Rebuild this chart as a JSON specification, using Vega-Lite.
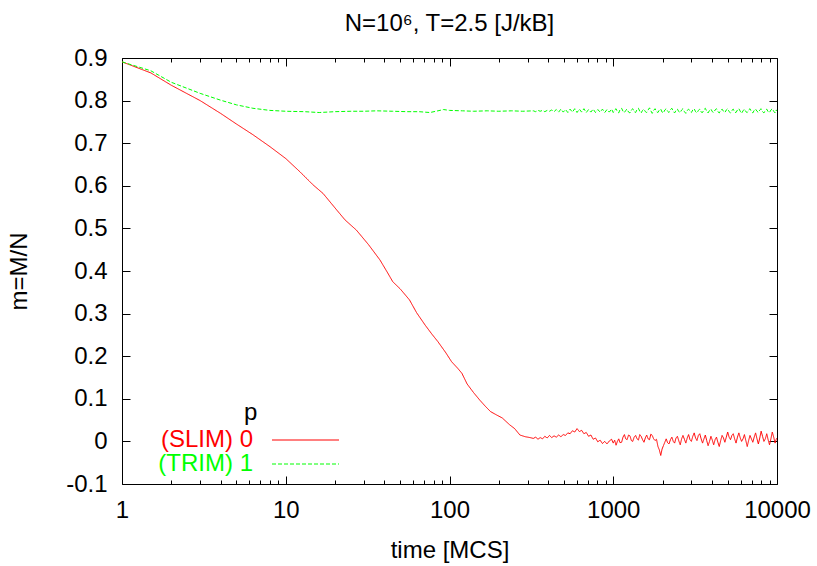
{
  "$schema": "https://vega.github.io/schema/vega-lite/v6.json",
  "width": 655,
  "height": 426,
  "autosize": "none",
  "padding": {"left": 122, "top": 58, "right": 40, "bottom": 82},
  "background": "white",
  "title": {"text": "N=10⁶, T=2.5 [J/kB]", "anchor": "middle", "frame": "group", "offset": 10, "font": "Liberation Sans", "fontSize": 24, "fontWeight": "normal", "color": "black"},
  "datasets": {
    "d": [
      {"t":1,"m":0.891,"p":"(SLIM) 0"},{"t":1.5,"m":0.865,"p":"(SLIM) 0"},{"t":2,"m":0.836,"p":"(SLIM) 0"},{"t":3,"m":0.800,"p":"(SLIM) 0"},{"t":4,"m":0.770,"p":"(SLIM) 0"},{"t":5,"m":0.745,"p":"(SLIM) 0"},{"t":6.3,"m":0.720,"p":"(SLIM) 0"},{"t":8,"m":0.692,"p":"(SLIM) 0"},{"t":10,"m":0.664,"p":"(SLIM) 0"},{"t":12.2,"m":0.633,"p":"(SLIM) 0"},{"t":14.7,"m":0.602,"p":"(SLIM) 0"},{"t":16.9,"m":0.582,"p":"(SLIM) 0"},{"t":20.5,"m":0.543,"p":"(SLIM) 0"},{"t":23,"m":0.520,"p":"(SLIM) 0"},{"t":27,"m":0.496,"p":"(SLIM) 0"},{"t":32,"m":0.462,"p":"(SLIM) 0"},{"t":37.6,"m":0.426,"p":"(SLIM) 0"},{"t":42,"m":0.395,"p":"(SLIM) 0"},{"t":45,"m":0.375,"p":"(SLIM) 0"},{"t":50,"m":0.358,"p":"(SLIM) 0"},{"t":57,"m":0.332,"p":"(SLIM) 0"},{"t":63,"m":0.302,"p":"(SLIM) 0"},{"t":71,"m":0.273,"p":"(SLIM) 0"},{"t":78,"m":0.252,"p":"(SLIM) 0"},{"t":85,"m":0.234,"p":"(SLIM) 0"},{"t":95,"m":0.208,"p":"(SLIM) 0"},{"t":103,"m":0.187,"p":"(SLIM) 0"},{"t":112,"m":0.172,"p":"(SLIM) 0"},{"t":119,"m":0.160,"p":"(SLIM) 0"},{"t":128,"m":0.135,"p":"(SLIM) 0"},{"t":140,"m":0.115,"p":"(SLIM) 0"},{"t":153,"m":0.097,"p":"(SLIM) 0"},{"t":165,"m":0.083,"p":"(SLIM) 0"},{"t":178,"m":0.070,"p":"(SLIM) 0"},{"t":194,"m":0.062,"p":"(SLIM) 0"},{"t":210,"m":0.055,"p":"(SLIM) 0"},{"t":233,"m":0.039,"p":"(SLIM) 0"},{"t":250,"m":0.030,"p":"(SLIM) 0"},{"t":269,"m":0.015,"p":"(SLIM) 0"},{"t":290,"m":0.011,"p":"(SLIM) 0"},{"t":310,"m":0.009,"p":"(SLIM) 0"},
      {"t":325,"m":0.007,"p":"(SLIM) 0"},{"t":336,"m":0.010,"p":"(SLIM) 0"},{"t":347,"m":0.005,"p":"(SLIM) 0"},{"t":358,"m":0.009,"p":"(SLIM) 0"},{"t":370,"m":0.006,"p":"(SLIM) 0"},{"t":382,"m":0.012,"p":"(SLIM) 0"},{"t":395,"m":0.008,"p":"(SLIM) 0"},{"t":408,"m":0.014,"p":"(SLIM) 0"},{"t":421,"m":0.009,"p":"(SLIM) 0"},{"t":435,"m":0.013,"p":"(SLIM) 0"},{"t":449,"m":0.010,"p":"(SLIM) 0"},{"t":464,"m":0.015,"p":"(SLIM) 0"},{"t":479,"m":0.011,"p":"(SLIM) 0"},{"t":495,"m":0.016,"p":"(SLIM) 0"},{"t":511,"m":0.014,"p":"(SLIM) 0"},{"t":528,"m":0.020,"p":"(SLIM) 0"},{"t":545,"m":0.018,"p":"(SLIM) 0"},{"t":563,"m":0.025,"p":"(SLIM) 0"},{"t":582,"m":0.022,"p":"(SLIM) 0"},{"t":601,"m":0.030,"p":"(SLIM) 0"},{"t":621,"m":0.023,"p":"(SLIM) 0"},{"t":641,"m":0.026,"p":"(SLIM) 0"},{"t":662,"m":0.018,"p":"(SLIM) 0"},{"t":684,"m":0.021,"p":"(SLIM) 0"},{"t":707,"m":0.012,"p":"(SLIM) 0"},{"t":730,"m":0.015,"p":"(SLIM) 0"},{"t":754,"m":0.005,"p":"(SLIM) 0"},{"t":779,"m":0.008,"p":"(SLIM) 0"},{"t":805,"m":-0.001,"p":"(SLIM) 0"},{"t":831,"m":0.003,"p":"(SLIM) 0"},{"t":859,"m":-0.005,"p":"(SLIM) 0"},{"t":887,"m":0.000,"p":"(SLIM) 0"},{"t":916,"m":-0.006,"p":"(SLIM) 0"},{"t":946,"m":0.001,"p":"(SLIM) 0"},{"t":977,"m":0.005,"p":"(SLIM) 0"},
      {"t":1000,"m":-0.004,"p":"(SLIM) 0"},{"t":1020,"m":0.003,"p":"(SLIM) 0"},{"t":1040,"m":-0.009,"p":"(SLIM) 0"},{"t":1060,"m":0.000,"p":"(SLIM) 0"},{"t":1080,"m":0.006,"p":"(SLIM) 0"},{"t":1100,"m":-0.003,"p":"(SLIM) 0"},{"t":1125,"m":-0.002,"p":"(SLIM) 0"},{"t":1147,"m":0.010,"p":"(SLIM) 0"},{"t":1170,"m":0.016,"p":"(SLIM) 0"},{"t":1192,"m":0.006,"p":"(SLIM) 0"},{"t":1215,"m":0.004,"p":"(SLIM) 0"},{"t":1240,"m":0.015,"p":"(SLIM) 0"},{"t":1265,"m":0.013,"p":"(SLIM) 0"},{"t":1290,"m":0.002,"p":"(SLIM) 0"},{"t":1315,"m":0.000,"p":"(SLIM) 0"},{"t":1342,"m":0.010,"p":"(SLIM) 0"},{"t":1370,"m":0.014,"p":"(SLIM) 0"},{"t":1397,"m":0.006,"p":"(SLIM) 0"},{"t":1425,"m":0.003,"p":"(SLIM) 0"},{"t":1452,"m":0.016,"p":"(SLIM) 0"},{"t":1480,"m":0.012,"p":"(SLIM) 0"},{"t":1510,"m":0.004,"p":"(SLIM) 0"},{"t":1540,"m":-0.002,"p":"(SLIM) 0"},{"t":1570,"m":0.008,"p":"(SLIM) 0"},{"t":1600,"m":0.015,"p":"(SLIM) 0"},{"t":1632,"m":0.006,"p":"(SLIM) 0"},{"t":1665,"m":0.004,"p":"(SLIM) 0"},{"t":1697,"m":0.017,"p":"(SLIM) 0"},{"t":1730,"m":0.014,"p":"(SLIM) 0"},{"t":1765,"m":0.006,"p":"(SLIM) 0"},{"t":1800,"m":0.002,"p":"(SLIM) 0"},{"t":1837,"m":0.005,"p":"(SLIM) 0"},{"t":1875,"m":-0.012,"p":"(SLIM) 0"},{"t":1912,"m":-0.020,"p":"(SLIM) 0"},{"t":1950,"m":-0.033,"p":"(SLIM) 0"},{"t":1987,"m":-0.018,"p":"(SLIM) 0"},{"t":2025,"m":-0.010,"p":"(SLIM) 0"},{"t":2065,"m":-0.002,"p":"(SLIM) 0"},{"t":2105,"m":0.006,"p":"(SLIM) 0"},{"t":2147,"m":-0.003,"p":"(SLIM) 0"},{"t":2190,"m":-0.006,"p":"(SLIM) 0"},{"t":2235,"m":0.004,"p":"(SLIM) 0"},{"t":2280,"m":0.010,"p":"(SLIM) 0"},{"t":2325,"m":0.000,"p":"(SLIM) 0"},{"t":2370,"m":-0.004,"p":"(SLIM) 0"},{"t":2417,"m":0.008,"p":"(SLIM) 0"},{"t":2465,"m":0.012,"p":"(SLIM) 0"},{"t":2515,"m":0.001,"p":"(SLIM) 0"},{"t":2565,"m":-0.008,"p":"(SLIM) 0"},{"t":2615,"m":0.006,"p":"(SLIM) 0"},{"t":2665,"m":0.014,"p":"(SLIM) 0"},{"t":2720,"m":0.005,"p":"(SLIM) 0"},{"t":2775,"m":-0.004,"p":"(SLIM) 0"},{"t":2830,"m":0.008,"p":"(SLIM) 0"},{"t":2885,"m":0.016,"p":"(SLIM) 0"},{"t":2942,"m":0.004,"p":"(SLIM) 0"},{"t":3000,"m":0.000,"p":"(SLIM) 0"},{"t":3060,"m":0.012,"p":"(SLIM) 0"},{"t":3120,"m":0.020,"p":"(SLIM) 0"},{"t":3182,"m":0.008,"p":"(SLIM) 0"},{"t":3245,"m":0.002,"p":"(SLIM) 0"},{"t":3310,"m":0.014,"p":"(SLIM) 0"},{"t":3375,"m":0.018,"p":"(SLIM) 0"},{"t":3442,"m":0.006,"p":"(SLIM) 0"},{"t":3510,"m":-0.004,"p":"(SLIM) 0"},{"t":3580,"m":0.006,"p":"(SLIM) 0"},{"t":3650,"m":0.015,"p":"(SLIM) 0"},{"t":3722,"m":0.002,"p":"(SLIM) 0"},{"t":3795,"m":-0.010,"p":"(SLIM) 0"},{"t":3872,"m":0.000,"p":"(SLIM) 0"},{"t":3950,"m":0.012,"p":"(SLIM) 0"},{"t":4027,"m":0.003,"p":"(SLIM) 0"},{"t":4105,"m":-0.008,"p":"(SLIM) 0"},{"t":4187,"m":0.004,"p":"(SLIM) 0"},{"t":4270,"m":0.010,"p":"(SLIM) 0"},{"t":4355,"m":-0.002,"p":"(SLIM) 0"},{"t":4440,"m":-0.012,"p":"(SLIM) 0"},{"t":4530,"m":0.002,"p":"(SLIM) 0"},{"t":4620,"m":0.014,"p":"(SLIM) 0"},{"t":4712,"m":0.008,"p":"(SLIM) 0"},{"t":4805,"m":-0.002,"p":"(SLIM) 0"},{"t":4902,"m":0.010,"p":"(SLIM) 0"},{"t":5000,"m":0.022,"p":"(SLIM) 0"},{"t":5100,"m":0.010,"p":"(SLIM) 0"},{"t":5200,"m":0.004,"p":"(SLIM) 0"},{"t":5302,"m":0.014,"p":"(SLIM) 0"},{"t":5405,"m":0.018,"p":"(SLIM) 0"},{"t":5512,"m":0.006,"p":"(SLIM) 0"},{"t":5620,"m":-0.004,"p":"(SLIM) 0"},{"t":5735,"m":0.010,"p":"(SLIM) 0"},{"t":5850,"m":0.020,"p":"(SLIM) 0"},{"t":5965,"m":0.008,"p":"(SLIM) 0"},{"t":6080,"m":0.000,"p":"(SLIM) 0"},{"t":6202,"m":0.006,"p":"(SLIM) 0"},{"t":6325,"m":0.016,"p":"(SLIM) 0"},{"t":6452,"m":0.002,"p":"(SLIM) 0"},{"t":6580,"m":-0.012,"p":"(SLIM) 0"},{"t":6710,"m":0.002,"p":"(SLIM) 0"},{"t":6840,"m":0.014,"p":"(SLIM) 0"},{"t":6977,"m":0.006,"p":"(SLIM) 0"},{"t":7115,"m":-0.002,"p":"(SLIM) 0"},{"t":7257,"m":0.010,"p":"(SLIM) 0"},{"t":7400,"m":0.020,"p":"(SLIM) 0"},{"t":7547,"m":0.006,"p":"(SLIM) 0"},{"t":7695,"m":-0.006,"p":"(SLIM) 0"},{"t":7847,"m":0.008,"p":"(SLIM) 0"},{"t":8000,"m":0.024,"p":"(SLIM) 0"},{"t":8160,"m":0.012,"p":"(SLIM) 0"},{"t":8320,"m":0.000,"p":"(SLIM) 0"},{"t":8487,"m":0.006,"p":"(SLIM) 0"},{"t":8655,"m":0.018,"p":"(SLIM) 0"},{"t":8827,"m":0.004,"p":"(SLIM) 0"},{"t":9000,"m":-0.008,"p":"(SLIM) 0"},{"t":9180,"m":0.006,"p":"(SLIM) 0"},{"t":9360,"m":0.022,"p":"(SLIM) 0"},{"t":9547,"m":0.010,"p":"(SLIM) 0"},{"t":9735,"m":-0.004,"p":"(SLIM) 0"},{"t":9870,"m":0.004,"p":"(SLIM) 0"},{"t":10000,"m":0.008,"p":"(SLIM) 0"},
      {"t":1,"m":0.891,"p":"(TRIM) 1"},{"t":1.5,"m":0.870,"p":"(TRIM) 1"},{"t":2,"m":0.843,"p":"(TRIM) 1"},{"t":3,"m":0.817,"p":"(TRIM) 1"},{"t":4,"m":0.801,"p":"(TRIM) 1"},{"t":5,"m":0.790,"p":"(TRIM) 1"},{"t":6.3,"m":0.782,"p":"(TRIM) 1"},{"t":8,"m":0.777,"p":"(TRIM) 1"},{"t":10,"m":0.775,"p":"(TRIM) 1"},{"t":13,"m":0.774,"p":"(TRIM) 1"},{"t":16,"m":0.772,"p":"(TRIM) 1"},{"t":20,"m":0.774,"p":"(TRIM) 1"},{"t":25,"m":0.775,"p":"(TRIM) 1"},{"t":30,"m":0.775,"p":"(TRIM) 1"},{"t":36,"m":0.776,"p":"(TRIM) 1"},{"t":45,"m":0.775,"p":"(TRIM) 1"},{"t":55,"m":0.774,"p":"(TRIM) 1"},{"t":65,"m":0.774,"p":"(TRIM) 1"},{"t":76,"m":0.772,"p":"(TRIM) 1"},{"t":85,"m":0.776,"p":"(TRIM) 1"},{"t":92,"m":0.779,"p":"(TRIM) 1"},{"t":100,"m":0.777,"p":"(TRIM) 1"},{"t":120,"m":0.776,"p":"(TRIM) 1"},{"t":140,"m":0.775,"p":"(TRIM) 1"},{"t":170,"m":0.776,"p":"(TRIM) 1"},{"t":200,"m":0.775,"p":"(TRIM) 1"},{"t":240,"m":0.776,"p":"(TRIM) 1"},{"t":280,"m":0.775,"p":"(TRIM) 1"},
      {"t":325,"m":0.776,"p":"(TRIM) 1"},{"t":336,"m":0.774,"p":"(TRIM) 1"},{"t":347,"m":0.777,"p":"(TRIM) 1"},{"t":358,"m":0.775,"p":"(TRIM) 1"},{"t":370,"m":0.777,"p":"(TRIM) 1"},{"t":382,"m":0.774,"p":"(TRIM) 1"},{"t":395,"m":0.777,"p":"(TRIM) 1"},{"t":408,"m":0.775,"p":"(TRIM) 1"},{"t":421,"m":0.778,"p":"(TRIM) 1"},{"t":435,"m":0.774,"p":"(TRIM) 1"},{"t":449,"m":0.779,"p":"(TRIM) 1"},{"t":464,"m":0.773,"p":"(TRIM) 1"},{"t":479,"m":0.780,"p":"(TRIM) 1"},{"t":495,"m":0.773,"p":"(TRIM) 1"},{"t":511,"m":0.779,"p":"(TRIM) 1"},{"t":528,"m":0.772,"p":"(TRIM) 1"},{"t":545,"m":0.780,"p":"(TRIM) 1"},{"t":563,"m":0.773,"p":"(TRIM) 1"},{"t":582,"m":0.781,"p":"(TRIM) 1"},{"t":601,"m":0.772,"p":"(TRIM) 1"},{"t":621,"m":0.780,"p":"(TRIM) 1"},{"t":641,"m":0.773,"p":"(TRIM) 1"},{"t":662,"m":0.781,"p":"(TRIM) 1"},{"t":684,"m":0.772,"p":"(TRIM) 1"},{"t":707,"m":0.779,"p":"(TRIM) 1"},{"t":730,"m":0.773,"p":"(TRIM) 1"},{"t":754,"m":0.780,"p":"(TRIM) 1"},{"t":779,"m":0.772,"p":"(TRIM) 1"},{"t":805,"m":0.779,"p":"(TRIM) 1"},{"t":831,"m":0.773,"p":"(TRIM) 1"},{"t":859,"m":0.780,"p":"(TRIM) 1"},{"t":887,"m":0.772,"p":"(TRIM) 1"},{"t":916,"m":0.779,"p":"(TRIM) 1"},{"t":946,"m":0.773,"p":"(TRIM) 1"},{"t":977,"m":0.780,"p":"(TRIM) 1"},
      {"t":1000,"m":0.772,"p":"(TRIM) 1"},{"t":1020,"m":0.778,"p":"(TRIM) 1"},{"t":1040,"m":0.781,"p":"(TRIM) 1"},{"t":1060,"m":0.774,"p":"(TRIM) 1"},{"t":1080,"m":0.771,"p":"(TRIM) 1"},{"t":1100,"m":0.779,"p":"(TRIM) 1"},{"t":1125,"m":0.782,"p":"(TRIM) 1"},{"t":1147,"m":0.775,"p":"(TRIM) 1"},{"t":1170,"m":0.772,"p":"(TRIM) 1"},{"t":1192,"m":0.777,"p":"(TRIM) 1"},{"t":1215,"m":0.780,"p":"(TRIM) 1"},{"t":1240,"m":0.773,"p":"(TRIM) 1"},{"t":1265,"m":0.771,"p":"(TRIM) 1"},{"t":1290,"m":0.778,"p":"(TRIM) 1"},{"t":1315,"m":0.781,"p":"(TRIM) 1"},{"t":1342,"m":0.774,"p":"(TRIM) 1"},{"t":1370,"m":0.772,"p":"(TRIM) 1"},{"t":1397,"m":0.779,"p":"(TRIM) 1"},{"t":1425,"m":0.782,"p":"(TRIM) 1"},{"t":1452,"m":0.775,"p":"(TRIM) 1"},{"t":1480,"m":0.771,"p":"(TRIM) 1"},{"t":1510,"m":0.777,"p":"(TRIM) 1"},{"t":1540,"m":0.780,"p":"(TRIM) 1"},{"t":1570,"m":0.774,"p":"(TRIM) 1"},{"t":1600,"m":0.772,"p":"(TRIM) 1"},{"t":1632,"m":0.778,"p":"(TRIM) 1"},{"t":1665,"m":0.783,"p":"(TRIM) 1"},{"t":1697,"m":0.776,"p":"(TRIM) 1"},{"t":1730,"m":0.770,"p":"(TRIM) 1"},{"t":1765,"m":0.777,"p":"(TRIM) 1"},{"t":1800,"m":0.781,"p":"(TRIM) 1"},{"t":1837,"m":0.774,"p":"(TRIM) 1"},{"t":1875,"m":0.772,"p":"(TRIM) 1"},{"t":1912,"m":0.778,"p":"(TRIM) 1"},{"t":1950,"m":0.780,"p":"(TRIM) 1"},{"t":1987,"m":0.773,"p":"(TRIM) 1"},{"t":2025,"m":0.771,"p":"(TRIM) 1"},{"t":2065,"m":0.778,"p":"(TRIM) 1"},{"t":2105,"m":0.781,"p":"(TRIM) 1"},{"t":2147,"m":0.775,"p":"(TRIM) 1"},{"t":2190,"m":0.772,"p":"(TRIM) 1"},{"t":2235,"m":0.779,"p":"(TRIM) 1"},{"t":2280,"m":0.782,"p":"(TRIM) 1"},{"t":2325,"m":0.775,"p":"(TRIM) 1"},{"t":2370,"m":0.771,"p":"(TRIM) 1"},{"t":2417,"m":0.777,"p":"(TRIM) 1"},{"t":2465,"m":0.780,"p":"(TRIM) 1"},{"t":2515,"m":0.774,"p":"(TRIM) 1"},{"t":2565,"m":0.772,"p":"(TRIM) 1"},{"t":2615,"m":0.778,"p":"(TRIM) 1"},{"t":2665,"m":0.781,"p":"(TRIM) 1"},{"t":2720,"m":0.774,"p":"(TRIM) 1"},{"t":2775,"m":0.770,"p":"(TRIM) 1"},{"t":2830,"m":0.777,"p":"(TRIM) 1"},{"t":2885,"m":0.780,"p":"(TRIM) 1"},{"t":2942,"m":0.775,"p":"(TRIM) 1"},{"t":3000,"m":0.772,"p":"(TRIM) 1"},{"t":3060,"m":0.778,"p":"(TRIM) 1"},{"t":3120,"m":0.781,"p":"(TRIM) 1"},{"t":3182,"m":0.774,"p":"(TRIM) 1"},{"t":3245,"m":0.771,"p":"(TRIM) 1"},{"t":3310,"m":0.777,"p":"(TRIM) 1"},{"t":3375,"m":0.780,"p":"(TRIM) 1"},{"t":3442,"m":0.773,"p":"(TRIM) 1"},{"t":3510,"m":0.772,"p":"(TRIM) 1"},{"t":3580,"m":0.779,"p":"(TRIM) 1"},{"t":3650,"m":0.782,"p":"(TRIM) 1"},{"t":3722,"m":0.775,"p":"(TRIM) 1"},{"t":3795,"m":0.771,"p":"(TRIM) 1"},{"t":3872,"m":0.777,"p":"(TRIM) 1"},{"t":3950,"m":0.780,"p":"(TRIM) 1"},{"t":4027,"m":0.774,"p":"(TRIM) 1"},{"t":4105,"m":0.772,"p":"(TRIM) 1"},{"t":4187,"m":0.778,"p":"(TRIM) 1"},{"t":4270,"m":0.781,"p":"(TRIM) 1"},{"t":4355,"m":0.774,"p":"(TRIM) 1"},{"t":4440,"m":0.771,"p":"(TRIM) 1"},{"t":4530,"m":0.777,"p":"(TRIM) 1"},{"t":4620,"m":0.780,"p":"(TRIM) 1"},{"t":4712,"m":0.775,"p":"(TRIM) 1"},{"t":4805,"m":0.772,"p":"(TRIM) 1"},{"t":4902,"m":0.778,"p":"(TRIM) 1"},{"t":5000,"m":0.781,"p":"(TRIM) 1"},{"t":5100,"m":0.774,"p":"(TRIM) 1"},{"t":5200,"m":0.771,"p":"(TRIM) 1"},{"t":5302,"m":0.777,"p":"(TRIM) 1"},{"t":5405,"m":0.780,"p":"(TRIM) 1"},{"t":5512,"m":0.773,"p":"(TRIM) 1"},{"t":5620,"m":0.772,"p":"(TRIM) 1"},{"t":5735,"m":0.778,"p":"(TRIM) 1"},{"t":5850,"m":0.781,"p":"(TRIM) 1"},{"t":5965,"m":0.775,"p":"(TRIM) 1"},{"t":6080,"m":0.770,"p":"(TRIM) 1"},{"t":6202,"m":0.776,"p":"(TRIM) 1"},{"t":6325,"m":0.780,"p":"(TRIM) 1"},{"t":6452,"m":0.774,"p":"(TRIM) 1"},{"t":6580,"m":0.772,"p":"(TRIM) 1"},{"t":6710,"m":0.778,"p":"(TRIM) 1"},{"t":6840,"m":0.781,"p":"(TRIM) 1"},{"t":6977,"m":0.774,"p":"(TRIM) 1"},{"t":7115,"m":0.771,"p":"(TRIM) 1"},{"t":7257,"m":0.777,"p":"(TRIM) 1"},{"t":7400,"m":0.780,"p":"(TRIM) 1"},{"t":7547,"m":0.775,"p":"(TRIM) 1"},{"t":7695,"m":0.772,"p":"(TRIM) 1"},{"t":7847,"m":0.778,"p":"(TRIM) 1"},{"t":8000,"m":0.781,"p":"(TRIM) 1"},{"t":8160,"m":0.774,"p":"(TRIM) 1"},{"t":8320,"m":0.771,"p":"(TRIM) 1"},{"t":8487,"m":0.777,"p":"(TRIM) 1"},{"t":8655,"m":0.780,"p":"(TRIM) 1"},{"t":8827,"m":0.774,"p":"(TRIM) 1"},{"t":9000,"m":0.772,"p":"(TRIM) 1"},{"t":9180,"m":0.778,"p":"(TRIM) 1"},{"t":9360,"m":0.781,"p":"(TRIM) 1"},{"t":9547,"m":0.775,"p":"(TRIM) 1"},{"t":9735,"m":0.771,"p":"(TRIM) 1"},{"t":9870,"m":0.778,"p":"(TRIM) 1"},{"t":10000,"m":0.776,"p":"(TRIM) 1"}
    ]
  },
  "data": {"name": "d"},
  "resolve": {"axis": {"x": "independent", "y": "independent"}},
  "layer": [
    {
      "mark": {"type": "line", "strokeWidth": 1, "clip": true},
      "encoding": {
        "x": {"field": "t", "type": "quantitative",
          "scale": {"type": "log", "domain": [1, 10000], "nice": false},
          "axis": {"orient": "bottom", "values": [1, 10, 100, 1000, 10000], "format": "d", "title": "time [MCS]", "tickSize": -8, "labelPadding": 22, "titlePadding": 16, "domain": false, "labelFlush": false, "labelOverlap": false}},
        "y": {"field": "m", "type": "quantitative",
          "scale": {"domain": [-0.1, 0.9], "nice": false, "zero": false},
          "axis": {"orient": "left", "values": [-0.1, 0, 0.1, 0.2, 0.3, 0.4, 0.5, 0.6, 0.7, 0.8, 0.9], "format": ".1~f", "labelExpr": "replace(datum.label, '\u2212', '-')", "title": "m=M/N", "tickSize": -8, "labelPadding": 23, "titlePadding": 34, "domain": false, "labelFlush": false, "labelOverlap": false}},
        "color": {"field": "p", "type": "nominal",
          "scale": {"domain": ["(SLIM) 0", "(TRIM) 1"], "range": ["#ff0000", "#00ff00"]},
          "legend": {"title": "p", "symbolType": "M-1,0H12.4", "encode": {"labels": {"update": {"fill": {"signal": "datum.value === '(SLIM) 0' ? '#ff0000' : '#00ff00'"}}}, "title": {"update": {"dx": {"value": -21}}}}}},
        "strokeDash": {"field": "p", "type": "nominal",
          "scale": {"domain": ["(SLIM) 0", "(TRIM) 1"], "range": [[1, 0], [4, 2]]},
          "legend": {"title": "p", "symbolType": "M-1,0H12.4", "encode": {"labels": {"update": {"fill": {"signal": "datum.value === '(SLIM) 0' ? '#ff0000' : '#00ff00'"}}}, "title": {"update": {"dx": {"value": -21}}}}}}
      }
    },
    {
      "mark": {"type": "point", "opacity": 0},
      "encoding": {
        "x": {"field": "t", "type": "quantitative", "axis": {"orient": "top", "values": [1, 10, 100, 1000, 10000], "labels": false, "title": null, "tickSize": -8, "domain": false}},
        "y": {"field": "m", "type": "quantitative", "axis": {"orient": "right", "values": [-0.1, 0, 0.1, 0.2, 0.3, 0.4, 0.5, 0.6, 0.7, 0.8, 0.9], "labels": false, "title": null, "tickSize": -8, "domain": false}}
      }
    },
    {
      "mark": {"type": "point", "opacity": 0},
      "encoding": {
        "x": {"field": "t", "type": "quantitative", "axis": {"orient": "bottom", "values": [2,3,4,5,6,7,8,9,20,30,40,50,60,70,80,90,200,300,400,500,600,700,800,900,2000,3000,4000,5000,6000,7000,8000,9000], "labels": false, "title": null, "tickSize": -4, "domain": false}},
        "y": {"field": "m", "type": "quantitative", "axis": null}
      }
    },
    {
      "mark": {"type": "point", "opacity": 0},
      "encoding": {
        "x": {"field": "t", "type": "quantitative", "axis": {"orient": "top", "values": [2,3,4,5,6,7,8,9,20,30,40,50,60,70,80,90,200,300,400,500,600,700,800,900,2000,3000,4000,5000,6000,7000,8000,9000], "labels": false, "title": null, "tickSize": -4, "domain": false}},
        "y": {"field": "m", "type": "quantitative", "axis": null}
      }
    }
  ],
  "config": {
    "font": "Liberation Sans",
    "view": {"stroke": "black", "strokeWidth": 1},
    "axis": {"grid": false, "tickColor": "black", "tickWidth": 1, "labelColor": "black", "labelFont": "Liberation Sans", "labelFontSize": 24, "titleFont": "Liberation Sans", "titleFontSize": 24, "titleFontWeight": "normal", "titleColor": "black"},
    "legend": {"orient": "none", "legendX": 122, "legendY": 343, "padding": 0, "symbolSize": 100, "symbolStrokeWidth": 1, "symbolOffset": 0, "rowPadding": 0, "labelAlign": "right", "labelOffset": -36, "labelFont": "Liberation Sans", "labelFontSize": 24, "labelLimit": 0, "titleFont": "Liberation Sans", "titleFontSize": 24, "titleFontWeight": "normal", "titleColor": "black", "titlePadding": 3, "titleAnchor": "start", "titleAlign": "left"}
  }
}
